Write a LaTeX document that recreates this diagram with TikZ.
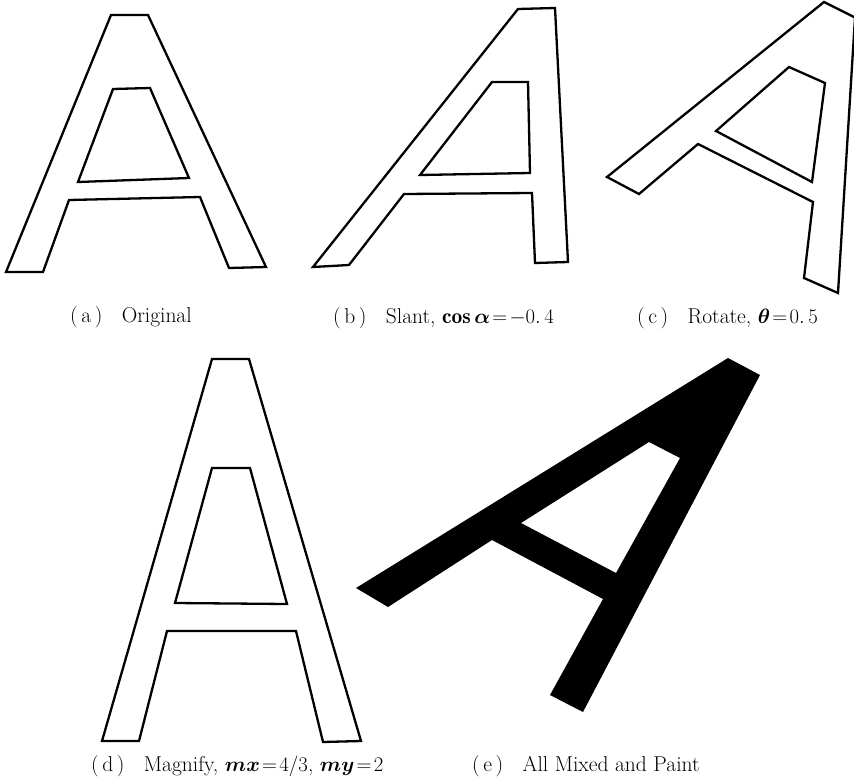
\documentclass[tikz,border=0pt]{standalone}
\usepackage{amsmath,amssymb}
\usepackage{bm}
\usepackage{fontspec}
\usepackage{tikz}

\begin{document}
\begin{tikzpicture}[x=1pt, y=-1pt,
  outline/.style={draw, line width=2.3pt, line join=miter, fill=white},
  painted/.style={fill=black, even odd rule},
  caption/.style={anchor=base west, inner sep=0pt,
    font=\fontsize{21.5}{25}\selectfont},
]
\useasboundingbox (0,0) rectangle (854,784);
\clip (0,0) rectangle (854,784);
% (a) original
\draw[outline] (111,15) -- (148,15) -- (266,267) -- (229,268) -- (200,197)
  -- (69,200) -- (43,272) -- (6,272) -- cycle;
\draw[outline] (113,89) -- (150,88) -- (189,178) -- (78,182) -- cycle;
% (b) slant
\draw[outline] (518,9) -- (555,8) -- (568,262) -- (535,263) -- (532,193)
  -- (404,194) -- (349,265) -- (313,267) -- cycle;
\draw[outline] (492,82) -- (528,82) -- (530,173) -- (420,175) -- cycle;
% (c) rotate
\draw[outline] (824,2) -- (855,17.5) -- (838,293) -- (804,278) -- (813,202)
  -- (698,144) -- (639,194) -- (607,177) -- cycle;
\draw[outline] (789,67) -- (825,83) -- (812,182) -- (716,131) -- cycle;
% (d) magnify
\draw[outline] (212,359) -- (249,359) -- (361,741) -- (323,742) -- (296,631)
  -- (167,631) -- (139,741) -- (102,741) -- cycle;
\draw[outline] (212,468) -- (250,468) -- (287,604) -- (175,603) -- cycle;
% (e) all mixed, painted
\fill[painted] (728,358) -- (760,375) -- (583,712) -- (550,695) -- (603,599)
  -- (492,540) -- (388,607) -- (356,588) -- cycle
  (649,442) -- (680,458) -- (616,573) -- (521,523) -- cycle;
% captions
\node[caption] (capA) at (70,322) {(\,a\,)\hspace{0.9em}Original};
\node[caption] (capB) at (333,323) {(\,b\,)\hspace{0.9em}Slant, $\mathbf{cos}\,\bm{\alpha}\!=\!-0.\,4$};
\node[caption] (capC) at (637,323) {(\,c\,)\hspace{0.9em}Rotate, $\bm{\theta}\!=\!0.\,5$};
\node[caption] (capD) at (91,771) {(\,d\,)\hspace{0.9em}Magnify, $\bm{mx}\!=\!4/3$, $\bm{my}\!=\!2$};
\node[caption] (capE) at (472,771) {(\,e\,)\hspace{0.9em}All Mixed and Paint};
\end{tikzpicture}
\end{document}
